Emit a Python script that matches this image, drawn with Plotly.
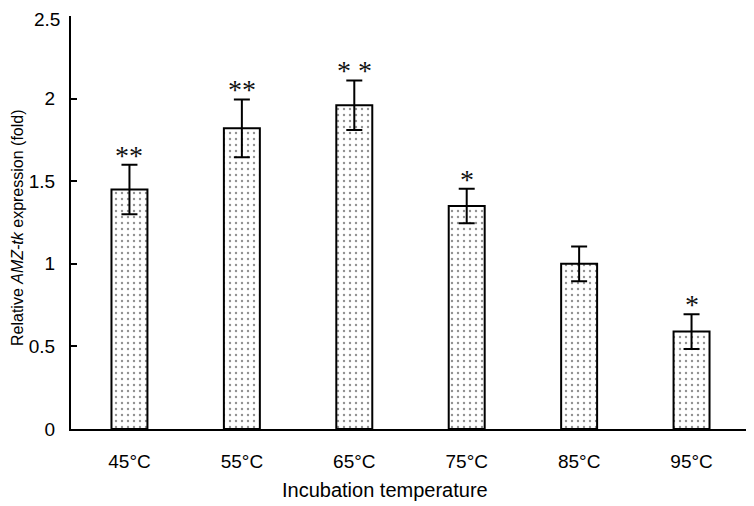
import plotly.graph_objects as go

categories = ["45°C", "55°C", "65°C", "75°C", "85°C", "95°C"]
values = [1.45, 1.82, 1.96, 1.35, 1.00, 0.59]
errors = [0.15, 0.175, 0.15, 0.105, 0.105, 0.105]
signif = ["**", "**", "* *", "*", "", "*"]
y_ticks = [0, 0.5, 1, 1.5, 2, 2.5]
y_tick_labels = ["0", "0.5", "1", "1.5", "2", "2.5"]
x_title = "Incubation temperature"
y_title = "Relative <i>AMZ-tk</i> expression (fold)"

fig = go.Figure()
fig.add_trace(go.Bar(
    x=list(range(len(categories))),
    y=values,
    width=0.32,
    marker=dict(
        color="white",
        line=dict(color="black", width=2),
        pattern=dict(shape=".", fgcolor="#222", bgcolor="white", size=6, solidity=0.12),
    ),
    error_y=dict(type="data", array=errors, visible=True, color="black", thickness=2, width=8),
))

for i, s in enumerate(signif):
    if s:
        fig.add_annotation(
            x=i, y=values[i] + errors[i], text=s, showarrow=False,
            yanchor="bottom", yshift=-8,
            font=dict(family="Liberation Serif", size=28, color="#111"),
        )

# top tick label drawn as annotation so it stays inside the page
fig.add_annotation(
    xref="paper", x=0, yref="y", y=y_ticks[-1], text=y_tick_labels[-1],
    showarrow=False, xanchor="right", xshift=-10, yanchor="top", yshift=8, borderpad=0,
    font=dict(size=19, color="black"),
)

fig.add_annotation(
    xref="paper", yref="paper", x=(385 - 71) / (750 - 71), y=(429 - 490) / (429 - 16),
    text=x_title, showarrow=False, xanchor="center", yanchor="middle",
    font=dict(size=20, color="black"),
)
fig.add_annotation(
    xref="paper", yref="paper", x=(17 - 71) / (750 - 71), y=(429 - 228) / (429 - 16),
    text=y_title, showarrow=False, xanchor="center", yanchor="middle", textangle=-90,
    font=dict(size=16, color="black"),
)

fig.update_layout(
    width=746, height=498,
    margin=dict(l=63, r=4, t=8, b=77, autoexpand=False),
    plot_bgcolor="white", paper_bgcolor="white",
    showlegend=False,
    font=dict(family="Liberation Sans, Arial", color="black"),
)
fig.update_xaxes(
    range=[-0.52, 5.52],
    tickmode="array", tickvals=list(range(len(categories))), ticktext=categories,
    showline=True, linecolor="black", linewidth=2, ticks="",
    showgrid=False, zeroline=False,
    tickfont=dict(size=19),
    ticklabelstandoff=14,
    automargin=False,
)
fig.update_yaxes(
    range=[0, 2.5],
    tickmode="array", tickvals=y_ticks, ticktext=y_tick_labels[:-1] + [""],
    showline=True, linecolor="black", linewidth=2,
    ticks="inside", ticklen=6, tickwidth=2, tickcolor="black",
    showgrid=False, zeroline=False,
    tickfont=dict(size=19),
    ticklabelstandoff=10,
    automargin=False,
)

fig.write_html("out.html")
